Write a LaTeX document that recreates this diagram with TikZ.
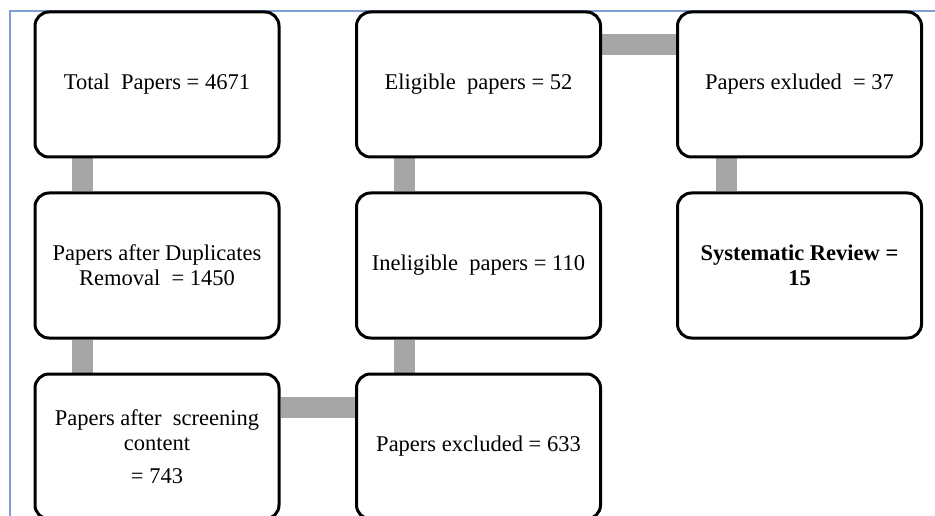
\documentclass[tikz,border=0pt]{standalone}
\usepackage{fontspec}
\setmainfont{Liberation Serif}
\usetikzlibrary{calc,backgrounds}
\definecolor{conngray}{HTML}{A6A6A6}
\definecolor{frameblue}{HTML}{7F9FD4}
\tikzset{
  flowbox/.style={draw=black, line width=3pt, rounded corners=14pt, fill=white,
    minimum width=244pt, minimum height=145pt, align=center, inner sep=0pt,
    font=\fontsize{22.5}{25}\selectfont},
  conn/.style={draw=conngray, line width=21pt},
  frame/.style={draw=frameblue, line width=1.5pt}
}
\begin{document}
\begin{tikzpicture}[x=1pt,y=-1pt]
\useasboundingbox (0,0) rectangle (935,516);
\clip (0,0) rectangle (935,516);
\draw[frame] (935,11) -- (10,11) -- (10,516);
\node[flowbox] (total) at (157,84.5) {Total~ Papers = 4671};
\node[flowbox] (dup) at (157,265.5) {Papers after Duplicates\\Removal~ = 1450};
\node[flowbox] (screen) at (157,446.5) {Papers after~ screening\\content\\[8pt]= 743};
\node[flowbox] (excl) at (478.5,446.5) {Papers excluded = 633};
\node[flowbox] (inel) at (478.5,265.5) {Ineligible~ papers = 110};
\node[flowbox] (elig) at (478.5,84.5) {Eligible~ papers = 52};
\node[flowbox] (excl2) at (799.5,84.5) {Papers exluded~ = 37};
\node[flowbox] (sys) at (799.5,265.5) {\bfseries Systematic Review =\\\bfseries 15};
\begin{scope}[on background layer]
\draw[conn] ($(total.south west)+(49,0)$) -- ($(dup.north west)+(49,0)$);
\draw[conn] ($(dup.south west)+(49,0)$) -- ($(screen.north west)+(49,0)$);
\draw[conn] ($(screen.north east)+(0,35)$) -- ($(excl.north west)+(0,35)$);
\draw[conn] ($(excl.north west)+(49,0)$) -- ($(inel.south west)+(49,0)$);
\draw[conn] ($(inel.north west)+(49,0)$) -- ($(elig.south west)+(49,0)$);
\draw[conn] ($(elig.north east)+(0,34)$) -- ($(excl2.north west)+(0,34)$);
\draw[conn] ($(excl2.south west)+(50,0)$) -- ($(sys.north west)+(50,0)$);
\end{scope}
\end{tikzpicture}
\end{document}
